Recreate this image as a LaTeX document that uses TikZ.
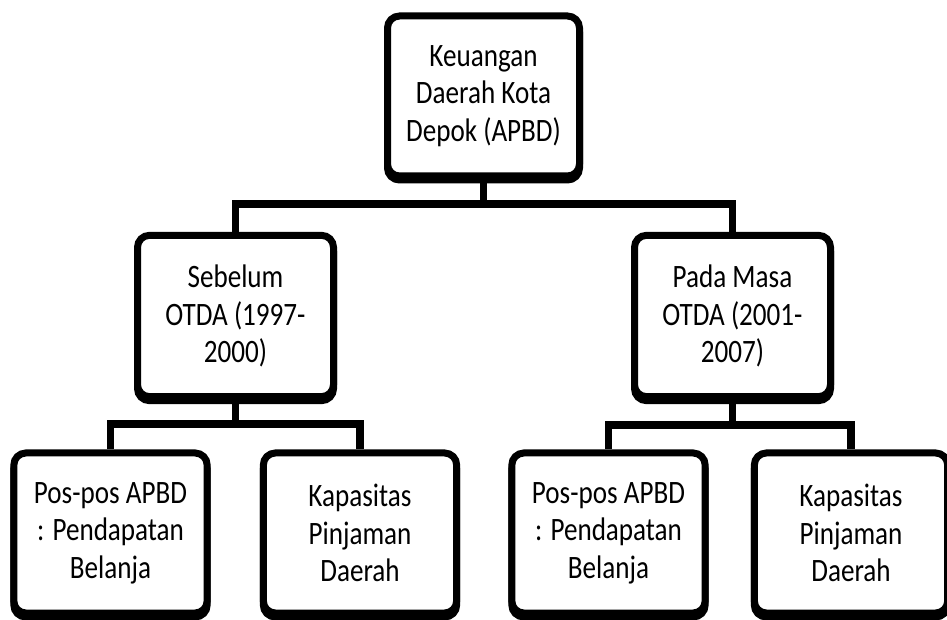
\documentclass[tikz,border=0pt]{standalone}
\usepackage{fontspec}
\setmainfont{Carlito}[FakeStretch=0.83]
\usetikzlibrary{shadows}

\tikzset{
    unit/.style={draw, line width=5.25pt, rounded corners=9pt, fill=white, align=center,
        inner sep=0pt, minimum width=145pt, minimum height=120pt,
        font=\fontsize{24.5}{28}\selectfont,
        drop shadow={shadow xshift=0pt, shadow yshift=-3pt, fill=black, draw=black,
            line width=5.25pt, opacity=1}},
    link/.style={line width=5.5pt}
}

\begin{document}
\begin{tikzpicture}[x=0.75pt, y=-0.75pt]
    \useasboundingbox (0, 0) rectangle (947, 620);

    \node[unit, minimum width=144pt] at (483.5, 96) (apbd) {Keuangan\\Daerah Kota\\Depok (APBD)};

    \node[unit, minimum width=147pt, minimum height=121pt] at (235.5, 316) (sebelum) {Sebelum\\OTDA (1997-\\2000)};
    \node[unit, minimum width=147pt, minimum height=121pt] at (732.5, 316) (masa) {Pada Masa\\OTDA (2001-\\2007)};

    \node[unit] at (110.5, 533) (posA) {Pos-pos APBD\\: Pendapatan\\Belanja};
    \node[unit] at (360, 533) (pinjA) {Kapasitas\\Pinjaman\\Daerah};
    \node[unit] at (608.5, 533) (posB) {Pos-pos APBD\\: Pendapatan\\Belanja};
    \node[unit] at (851, 533) (pinjB) {Kapasitas\\Pinjaman\\Daerah};

    \coordinate (b1) at (483.5, 204);
    \coordinate (b2) at (235.5, 424);
    \coordinate (b3) at (732.5, 425);

    \draw[link] (apbd.south) -- (b1) -| (sebelum.north); \draw[link] (b1) -| (masa.north);
    \draw[link] (sebelum.south) -- (b2) -| (posA.north); \draw[link] (b2) -| (pinjA.north);
    \draw[link] (masa.south) -- (b3) -| (posB.north); \draw[link] (b3) -| (pinjB.north);
\end{tikzpicture}
\end{document}
